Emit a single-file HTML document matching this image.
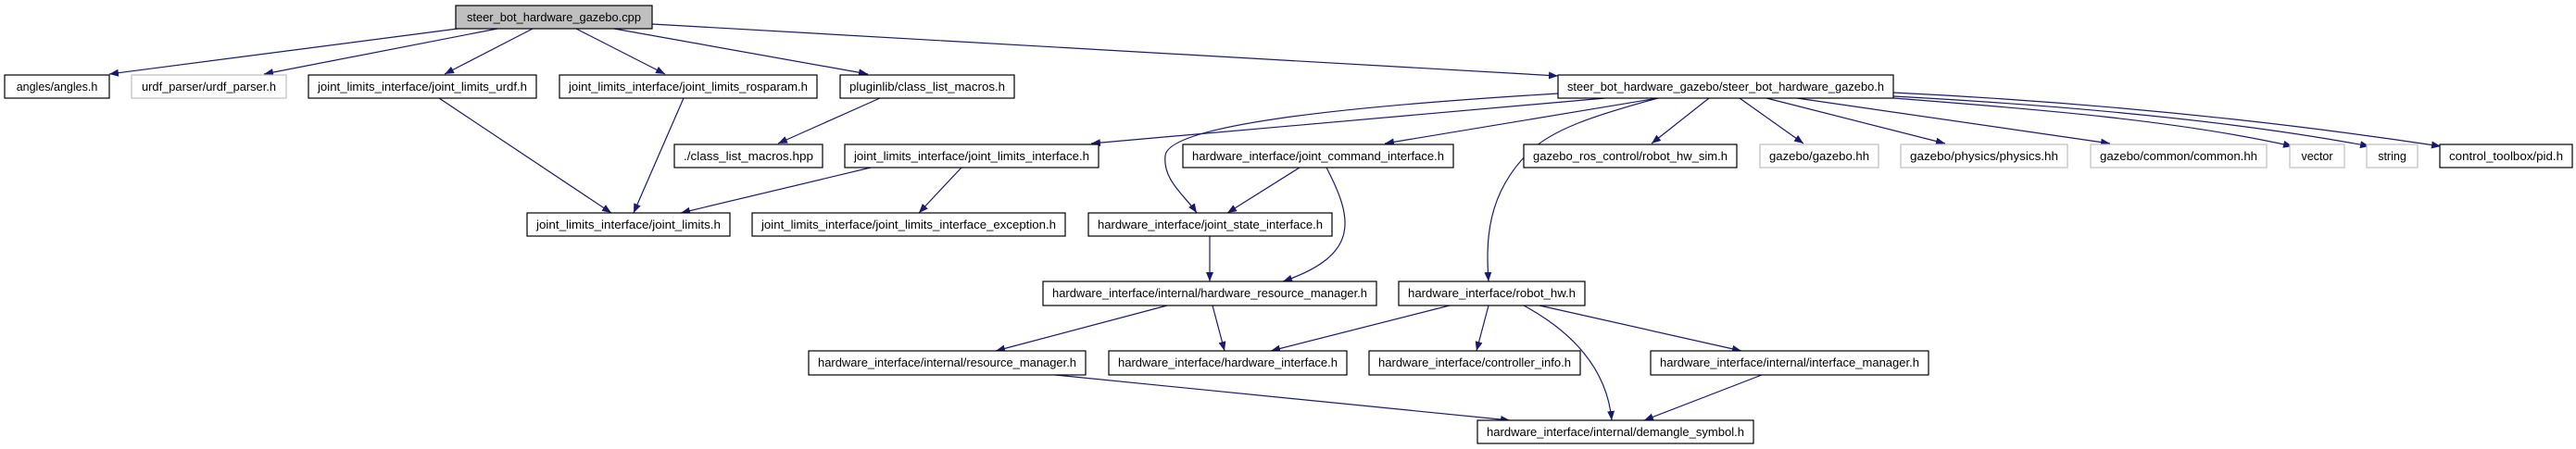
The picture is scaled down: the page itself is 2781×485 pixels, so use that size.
<!DOCTYPE html>
<html><head><meta charset="utf-8"><style>
html,body{margin:0;padding:0;background:#fff;}
svg{display:block;}
text{font-family:"Liberation Sans",Arial,sans-serif;font-size:12.5px;fill:#000;}
</style></head><body>
<svg width="2781" height="485" viewBox="0 0 2781 485" xmlns="http://www.w3.org/2000/svg">
<defs>
<marker id="a" viewBox="0 0 10 8" refX="10" refY="4" markerWidth="10" markerHeight="8" markerUnits="userSpaceOnUse" orient="auto">
<path d="M0,0 L10,4 L0,8 Z" fill="#191970"/>
</marker>
</defs>
<g fill="none" stroke="#191970" stroke-width="1.2" marker-end="url(#a)">
<path d="M494,31 L118,80"/>
<path d="M537,31 L285,80"/>
<path d="M575,31 L480,80"/>
<path d="M622,31 L718,80"/>
<path d="M663,31 L937,80"/>
<path d="M704,26 L1682,82"/>
<path d="M950,106 L840,155"/>
<path d="M474,106 L660,230"/>
<path d="M738,106 L684,230"/>
<path d="M940,181 L735,230"/>
<path d="M1038,181 L992,230"/>
<path d="M1733,106 L1178,155"/>
<path d="M1790,106 L1495,155"/>
<path d="M1682,101 C1450,115 1262,135 1258,168 C1255,195 1280,212 1292,230"/>
<path d="M1790,106 C1720,125 1675,140 1650,165 C1605,210 1604,260 1607,304"/>
<path d="M1845,106 L1783,155"/>
<path d="M1878,106 L1947,155"/>
<path d="M1907,106 L2100,155"/>
<path d="M1940,106 L2278,155"/>
<path d="M2044,106 C2200,118 2350,130 2475,158"/>
<path d="M2044,104 C2250,115 2420,132 2558,158"/>
<path d="M2044,100 C2250,110 2450,130 2635,158"/>
<path d="M1403,181 L1325,230"/>
<path d="M1432,181 C1460,235 1470,275 1385,304"/>
<path d="M1306,255 L1306,304"/>
<path d="M1260,330 L1075,379"/>
<path d="M1309,330 L1322,379"/>
<path d="M1565,330 L1372,379"/>
<path d="M1607,330 L1594,379"/>
<path d="M1645,330 C1700,360 1735,400 1740,454"/>
<path d="M1662,330 L1880,379"/>
<path d="M1139,405 L1630,454"/>
<path d="M1902,405 L1775,454"/>
</g>
<g stroke-width="1.2">
<!-- nodes: x1,x2,y,label,gray -->
<rect x="492" y="6" width="212" height="25" fill="#bfbfbf" stroke="#000"/>
<text x="598" y="23" text-anchor="middle" textLength="188" lengthAdjust="spacingAndGlyphs">steer_bot_hardware_gazebo.cpp</text>

<rect x="5" y="81" width="113" height="25" fill="#fff" stroke="#000"/>
<text x="61.5" y="98" text-anchor="middle">angles/angles.h</text>
<rect x="142" y="81" width="167" height="25" fill="#fff" stroke="#bfbfbf"/>
<text x="225.5" y="98" text-anchor="middle" textLength="145" lengthAdjust="spacingAndGlyphs">urdf_parser/urdf_parser.h</text>
<rect x="333" y="81" width="246" height="25" fill="#fff" stroke="#000"/>
<text x="456" y="98" text-anchor="middle" textLength="226" lengthAdjust="spacingAndGlyphs">joint_limits_interface/joint_limits_urdf.h</text>
<rect x="604" y="81" width="278" height="25" fill="#fff" stroke="#000"/>
<text x="743" y="98" text-anchor="middle" textLength="258" lengthAdjust="spacingAndGlyphs">joint_limits_interface/joint_limits_rosparam.h</text>
<rect x="907" y="81" width="188" height="25" fill="#fff" stroke="#000"/>
<text x="1001" y="98" text-anchor="middle" textLength="168" lengthAdjust="spacingAndGlyphs">pluginlib/class_list_macros.h</text>
<rect x="1682" y="81" width="362" height="25" fill="#fff" stroke="#000"/>
<text x="1863" y="98" text-anchor="middle" textLength="342" lengthAdjust="spacingAndGlyphs">steer_bot_hardware_gazebo/steer_bot_hardware_gazebo.h</text>

<rect x="728" y="156" width="160" height="25" fill="#fff" stroke="#000"/>
<text x="808" y="173" text-anchor="middle" textLength="140" lengthAdjust="spacingAndGlyphs">./class_list_macros.hpp</text>
<rect x="912" y="156" width="274" height="25" fill="#fff" stroke="#000"/>
<text x="1049" y="173" text-anchor="middle" textLength="254" lengthAdjust="spacingAndGlyphs">joint_limits_interface/joint_limits_interface.h</text>
<rect x="1277" y="156" width="292" height="25" fill="#fff" stroke="#000"/>
<text x="1423" y="173" text-anchor="middle" textLength="272" lengthAdjust="spacingAndGlyphs">hardware_interface/joint_command_interface.h</text>
<rect x="1645" y="156" width="230" height="25" fill="#fff" stroke="#000"/>
<text x="1760" y="173" text-anchor="middle" textLength="210" lengthAdjust="spacingAndGlyphs">gazebo_ros_control/robot_hw_sim.h</text>
<rect x="1900" y="156" width="128" height="25" fill="#fff" stroke="#bfbfbf"/>
<text x="1964" y="173" text-anchor="middle" textLength="108" lengthAdjust="spacingAndGlyphs">gazebo/gazebo.hh</text>
<rect x="2052" y="156" width="180" height="25" fill="#fff" stroke="#bfbfbf"/>
<text x="2142" y="173" text-anchor="middle" textLength="160" lengthAdjust="spacingAndGlyphs">gazebo/physics/physics.hh</text>
<rect x="2257" y="156" width="190" height="25" fill="#fff" stroke="#bfbfbf"/>
<text x="2352" y="173" text-anchor="middle" textLength="170" lengthAdjust="spacingAndGlyphs">gazebo/common/common.hh</text>
<rect x="2472" y="156" width="59" height="25" fill="#fff" stroke="#bfbfbf"/>
<text x="2501.5" y="173" text-anchor="middle">vector</text>
<rect x="2555" y="156" width="55" height="25" fill="#fff" stroke="#bfbfbf"/>
<text x="2582.5" y="173" text-anchor="middle">string</text>
<rect x="2634" y="156" width="143" height="25" fill="#fff" stroke="#000"/>
<text x="2705.5" y="173" text-anchor="middle" textLength="123" lengthAdjust="spacingAndGlyphs">control_toolbox/pid.h</text>

<rect x="569" y="230" width="219" height="25" fill="#fff" stroke="#000"/>
<text x="678.5" y="247" text-anchor="middle" textLength="199" lengthAdjust="spacingAndGlyphs">joint_limits_interface/joint_limits.h</text>
<rect x="812" y="230" width="338" height="25" fill="#fff" stroke="#000"/>
<text x="981" y="247" text-anchor="middle" textLength="318" lengthAdjust="spacingAndGlyphs">joint_limits_interface/joint_limits_interface_exception.h</text>
<rect x="1175" y="230" width="263" height="25" fill="#fff" stroke="#000"/>
<text x="1306.5" y="247" text-anchor="middle" textLength="243" lengthAdjust="spacingAndGlyphs">hardware_interface/joint_state_interface.h</text>

<rect x="1126" y="304" width="360" height="26" fill="#fff" stroke="#000"/>
<text x="1306" y="321" text-anchor="middle" textLength="340" lengthAdjust="spacingAndGlyphs">hardware_interface/internal/hardware_resource_manager.h</text>
<rect x="1510" y="304" width="201" height="26" fill="#fff" stroke="#000"/>
<text x="1610.5" y="321" text-anchor="middle" textLength="181" lengthAdjust="spacingAndGlyphs">hardware_interface/robot_hw.h</text>

<rect x="873" y="379" width="299" height="26" fill="#fff" stroke="#000"/>
<text x="1022.5" y="396" text-anchor="middle" textLength="279" lengthAdjust="spacingAndGlyphs">hardware_interface/internal/resource_manager.h</text>
<rect x="1197" y="379" width="257" height="26" fill="#fff" stroke="#000"/>
<text x="1325.5" y="396" text-anchor="middle" textLength="237" lengthAdjust="spacingAndGlyphs">hardware_interface/hardware_interface.h</text>
<rect x="1478" y="379" width="228" height="26" fill="#fff" stroke="#000"/>
<text x="1592" y="396" text-anchor="middle" textLength="208" lengthAdjust="spacingAndGlyphs">hardware_interface/controller_info.h</text>
<rect x="1782" y="379" width="300" height="26" fill="#fff" stroke="#000"/>
<text x="1932" y="396" text-anchor="middle" textLength="280" lengthAdjust="spacingAndGlyphs">hardware_interface/internal/interface_manager.h</text>

<rect x="1595" y="454" width="298" height="25" fill="#fff" stroke="#000"/>
<text x="1744" y="471" text-anchor="middle" textLength="278" lengthAdjust="spacingAndGlyphs">hardware_interface/internal/demangle_symbol.h</text>
</g>
</svg>
</body></html>
